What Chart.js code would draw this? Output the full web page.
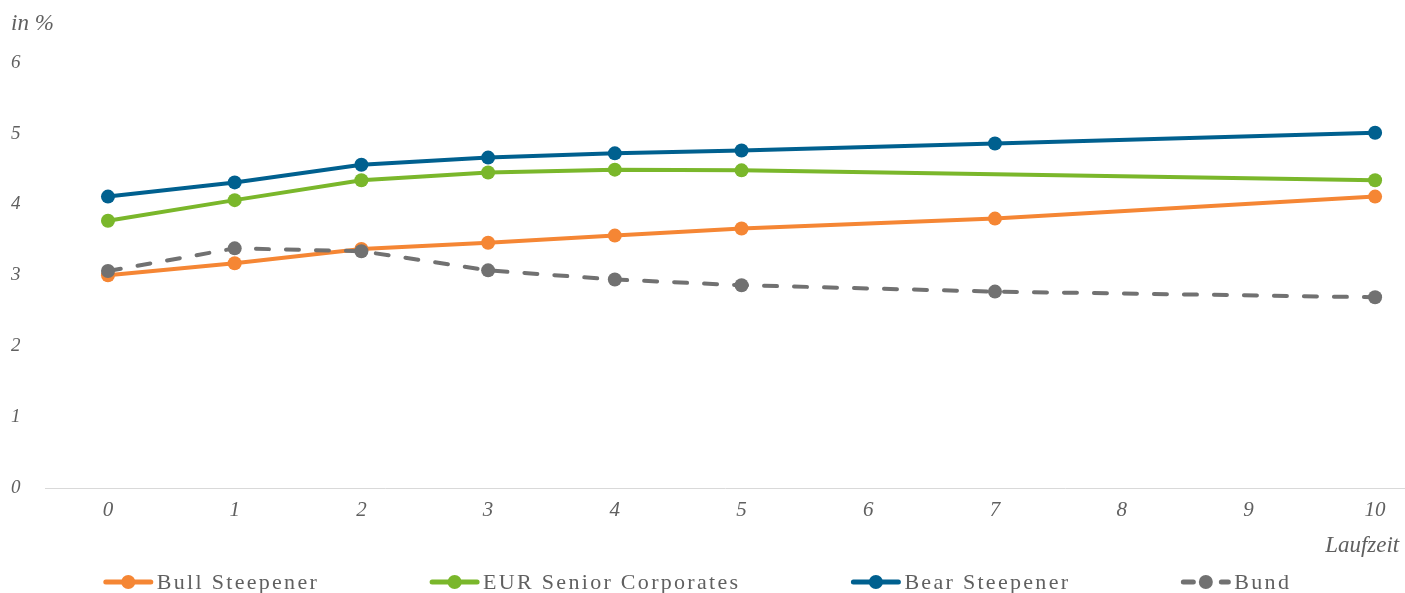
<!DOCTYPE html>
<html>
<head>
<meta charset="utf-8">
<script src="https://cdn.jsdelivr.net/npm/chart.js@4.4.0/dist/chart.umd.min.js"></script>
<style>
html,body{margin:0;padding:0;background:#fff;overflow:hidden}
canvas{display:block}
</style>
</head>
<body>
<canvas id="c" width="1405" height="593" style="width:1405px;height:593px"></canvas>
<script>
// ---- data ----
const maturities = [0, 1, 2, 3, 4, 5, 7, 10];
const bullSteepener = [3.00, 3.17, 3.37, 3.46, 3.56, 3.66, 3.80, 4.11];
const eurSeniorCorporates = [3.77, 4.06, 4.34, 4.45, 4.49, 4.48, null, 4.34];
const bearSteepener = [4.11, 4.31, 4.56, 4.66, 4.72, 4.76, 4.86, 5.01];
const bund = [3.06, 3.38, 3.34, 3.07, 2.94, 2.86, 2.77, 2.69];
const seriesLabels = ['Bull Steepener', 'EUR Senior Corporates', 'Bear Steepener', 'Bund'];
const xTickValues = [0, 1, 2, 3, 4, 5, 6, 7, 8, 9, 10];
const yTickValues = [0, 1, 2, 3, 4, 5, 6];
const yUnitLabel = 'in %';
const xAxisLabel = 'Laufzeit';

const SERIF = '"Liberation Serif", "DejaVu Serif", serif';
const TEXT = '#606060';

function pts(arr) { return maturities.map((x, i) => ({ x: x, y: arr[i] })); }

function ds(label, arr, color, order, dash) {
  return {
    label: label, data: pts(arr), borderColor: color, backgroundColor: color,
    pointBackgroundColor: color, pointBorderWidth: 0, pointRadius: 7, pointHoverRadius: 7,
    borderWidth: 4, borderDash: dash || [], borderCapStyle: dash ? 'round' : 'butt',
    spanGaps: true, tension: 0, order: order
  };
}

const legendPlugin = {
  id: 'bottomLegend',
  afterDraw(chart) {
    const ctx = chart.ctx;
    const sets = chart.data.datasets;
    const symW = 51, gapText = 3, gapItem = 110, cy = 582;
    ctx.save();
    ctx.font = '22px ' + SERIF;
    try { ctx.letterSpacing = '2.3px'; } catch (e) {}
    const widths = sets.map(d => symW + gapText + ctx.measureText(d.label).width);
    const total = widths.reduce((a, b) => a + b, 0) + gapItem * (sets.length - 1);
    let x = 697 - total / 2;
    sets.forEach((d, i) => {
      ctx.strokeStyle = d.borderColor;
      ctx.fillStyle = d.borderColor;
      ctx.lineWidth = 5;
      ctx.lineCap = 'round';
      ctx.setLineDash(d.borderDash && d.borderDash.length ? [10, 28] : []);
      ctx.beginPath();
      ctx.moveTo(x + 3, cy); ctx.lineTo(x + symW - 3, cy);
      ctx.stroke();
      ctx.setLineDash([]);
      ctx.beginPath();
      ctx.arc(x + symW / 2, cy, 7, 0, Math.PI * 2);
      ctx.fill();
      ctx.fillStyle = TEXT;
      ctx.textBaseline = 'middle';
      ctx.textAlign = 'left';
      ctx.fillText(d.label, x + symW + gapText, cy + 1);
      x += widths[i] + gapItem;
    });
    ctx.restore();
  }
};

new Chart(document.getElementById('c'), {
  type: 'line',
  data: {
    datasets: [
      ds(seriesLabels[0], bullSteepener, '#F58634', 3),
      ds(seriesLabels[1], eurSeniorCorporates, '#7AB72B', 2),
      ds(seriesLabels[2], bearSteepener, '#00608F', 1),
      ds(seriesLabels[3], bund, '#717171', 0, [13, 17])
    ]
  },
  options: {
    responsive: false,
    maintainAspectRatio: false,
    animation: false,
    devicePixelRatio: 1,
    layout: { autoPadding: false, padding: { top: 0, left: 11, right: 0, bottom: 31 } },
    plugins: {
      legend: { display: false },
      tooltip: { enabled: false },
      title: {
        display: true, text: yUnitLabel, align: 'start', color: TEXT,
        font: { family: SERIF, style: 'italic', size: 23, weight: 'normal' },
        padding: { top: 10, bottom: 25 }
      }
    },
    scales: {
      x: {
        type: 'linear', min: -0.497, max: 10.236,
        afterBuildTicks(s) { s.ticks = xTickValues.map(v => ({ value: v })); },
        afterFit(s) { s.height = 74; s.paddingLeft = 0; s.paddingRight = 0; },
        grid: { display: false, drawTicks: false },
        border: { display: true, color: '#d9d9d9', width: 1 },
        ticks: {
          padding: 10, color: TEXT, maxRotation: 0, autoSkip: false,
          font: { family: SERIF, style: 'italic', size: 21 },
          callback: v => String(v)
        },
        title: {
          display: true, text: xAxisLabel + ' ', align: 'end', color: TEXT,
          font: { family: SERIF, style: 'italic', size: 23 },
          padding: { top: 0, bottom: 2 }
        }
      },
      y: {
        min: 0, max: 6,
        afterBuildTicks(s) { s.ticks = yTickValues.map(v => ({ value: v })); },
        afterFit(s) { s.width = 34; },
        grid: { display: false, drawTicks: false },
        border: { display: false },
        ticks: {
          crossAlign: 'far', color: TEXT, padding: 0,
          font: { family: SERIF, style: 'italic', size: 19 },
          callback: v => String(v)
        }
      }
    }
  },
  plugins: [legendPlugin]
});
</script>
</body>
</html>
